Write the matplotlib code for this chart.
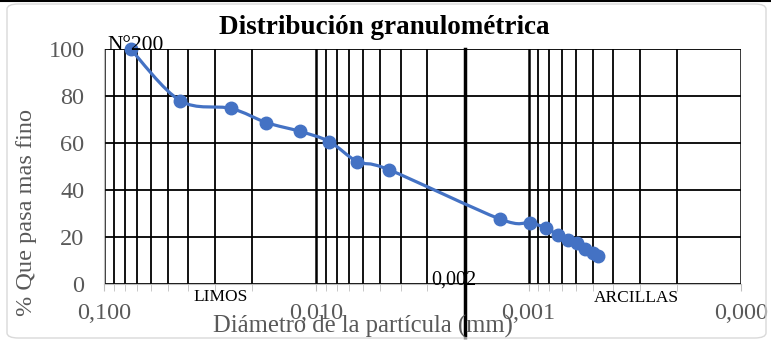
import matplotlib
matplotlib.use("Agg")
import numpy as np
import matplotlib.pyplot as plt
from matplotlib.patches import FancyBboxPatch, PathPatch
from matplotlib.path import Path
from matplotlib.lines import Line2D
from matplotlib.ticker import FuncFormatter, LogLocator

plt.rcParams['font.family'] = ['Liberation Serif', 'DejaVu Serif']

# Granulometria (hidrometro): diametro en mm y % que pasa
diametro = [0.075, 0.0438, 0.0252, 0.0172, 0.0119, 0.00868, 0.00641, 0.00457,
            0.00137, 0.00099, 0.00083, 0.00073, 0.00065, 0.00059, 0.00054,
            0.00050, 0.00047]
pasa = [100, 78.0, 74.7, 68.7, 64.9, 60.6, 52.1, 48.7,
        27.7, 26.0, 23.9, 20.9, 18.8, 17.5, 14.9, 13.2, 12.0]
limite_arcilla = 0.002
y_ticks = [0, 20, 40, 60, 80, 100]

gris = '#595959'
azul = '#4472C4'


def curva_suave(xs, ys):
    # linea suavizada tipo Excel (bezier cubica, catmull-rom) en espacio log
    lx = np.log10(xs)
    p = np.column_stack([lx, ys])
    verts = [p[0]]
    codes = [Path.MOVETO]
    n = len(p)
    for i in range(n - 1):
        p0 = p[i - 1] if i > 0 else p[i]
        p3 = p[i + 2] if i + 2 < n else p[i + 1]
        c1 = p[i] + (p[i + 1] - p0) / 6
        c2 = p[i + 1] - (p3 - p[i]) / 6
        verts += [c1, c2, p[i + 1]]
        codes += [Path.CURVE4] * 3
    verts = np.array(verts)
    verts[:, 0] = 10 ** verts[:, 0]
    return Path(verts, codes)


fig = plt.figure(figsize=(7.71, 3.41), dpi=100)
ax = fig.add_axes([104/771, 1-284/341, 637/771, 235/341])

# marco redondeado del grafico
fig.patches.append(FancyBboxPatch((7/771, 3/341), 759/771, 334/341,
                                  boxstyle="round,pad=0,rounding_size=0.015",
                                  transform=fig.transFigure, fc='none',
                                  ec='#d9d9d9', lw=1.0))
fig.add_artist(Line2D([0, 1], [0.998, 0.998], transform=fig.transFigure,
                      color='black', lw=1.5))

ax.add_patch(PathPatch(curva_suave(diametro, pasa), fc='none', ec=azul, lw=2.3,
                       zorder=5, clip_on=False, capstyle='round'))
ax.plot(diametro, pasa, linestyle='none', marker='o', ms=9,
        markerfacecolor=azul, markeredgecolor=azul, zorder=6, clip_on=False)

ax.set_xscale('log')
ax.set_xlim(0.1, 0.0001)
ax.set_ylim(0, 100)
ax.set_yticks(y_ticks)
ax.xaxis.set_major_locator(LogLocator(base=10))
ax.xaxis.set_minor_locator(LogLocator(base=10, subs=range(2, 10)))
ax.xaxis.set_major_formatter(FuncFormatter(lambda v, p: f"{v:.3f}".replace('.', ',')))
ax.xaxis.set_minor_formatter(FuncFormatter(lambda v, p: ''))

ax.grid(which='major', axis='x', color='black', lw=1.8)
ax.grid(which='minor', axis='x', color='black', lw=1.3)
ax.grid(which='major', axis='y', color='black', lw=1.3)
ax.set_axisbelow(True)

for s in ['top', 'right']:
    ax.spines[s].set_visible(False)
ax.spines['left'].set_color('#bfbfbf')
ax.spines['bottom'].set_color('#bfbfbf')
ax.spines['left'].set_zorder(3)

ax.tick_params(axis='x', which='both', direction='out', length=5, color='#bfbfbf',
               labelcolor=gris, labelsize=17.5, pad=9)
ax.tick_params(axis='y', length=0, labelcolor=gris, labelsize=17.5, pad=14)

ax.axvline(limite_arcilla, ymin=-0.225, ymax=1, color='black', lw=2.5,
           clip_on=False, zorder=4)

fig.text(384/771, 1-28/341, 'Distribución granulométrica', ha='center', va='center',
         fontsize=19.5, fontweight='bold', color='black')
fig.text(363/771, 1-326/341, 'Diámetro de la partícula (mm)', ha='center', va='center',
         fontsize=17.7, color=gris)
fig.text(27/771, 1-212/341, '% Que pasa mas fino', ha='center', va='center',
         rotation=90, fontsize=17.5, color=gris)

fig.text(107/771, 1-50/341, 'N°200', ha='left', va='baseline', fontsize=15.5, color='black')
fig.text(221/771, 1-297/341, 'LIMOS', ha='center', va='center', fontsize=12.5, color='black')
fig.text(636/771, 1-298/341, 'ARCILLAS', ha='center', va='center', fontsize=12.5, color='black')
fig.text(454/771, 1-280/341, '0,002', ha='center', va='center', fontsize=14.5, color='black')

fig.savefig('out.png', dpi=100)
